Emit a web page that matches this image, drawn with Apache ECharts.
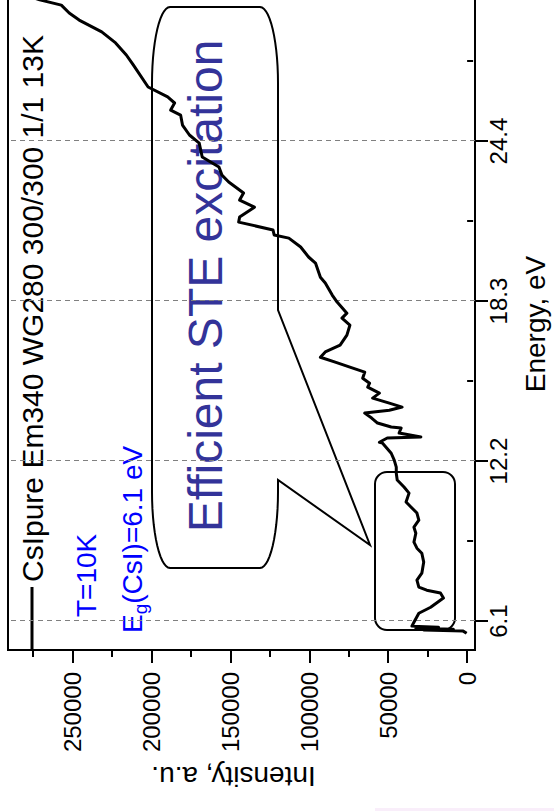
<!DOCTYPE html>
<html>
<head>
<meta charset="utf-8">
<script src="https://cdn.jsdelivr.net/npm/echarts@6/dist/echarts.min.js"></script>
<style>
  html, body { margin: 0; padding: 0; width: 554px; height: 811px; overflow: hidden; background: #fff; }
  /* The plot is laid out landscape and turned a quarter turn counter-clockwise */
  #chart { position: absolute; left: 0; top: 0; width: 860px; height: 554px;
           transform-origin: 0 0; transform: translate(0px, 811px) rotate(-90deg); }
</style>
</head>
<body>
<div id="chart"></div>
<script>
// Excitation spectrum of pure CsI at 10 K (emission 340 nm)
const seriesName = 'CsIpure Em340 WG280 300/300 1/1 13K';

const energy = [
  5.64, 5.72, 5.76, 5.79, 5.83, 5.87, 5.91, 6.06, 6.40, 6.63,
  6.98, 7.17, 7.28, 7.40, 7.66, 7.93, 8.35, 8.69, 8.88, 9.11,
  9.45, 9.68, 9.95, 10.22, 10.45, 10.64, 10.98, 11.21, 11.48, 11.74,
  11.97, 12.24, 12.50, 12.89, 12.92, 13.08, 13.12, 13.27, 13.46, 13.50,
  13.65, 13.84, 14.03, 14.14, 14.26, 14.41, 14.60, 14.79, 15.02, 15.17,
  15.36, 15.59, 15.78, 15.97, 16.16, 16.36, 16.62, 17.00, 17.38, 17.65,
  17.84, 18.26, 18.53, 18.99, 19.21, 19.75, 19.98, 20.36, 20.70, 20.82,
  21.01, 21.31, 21.50, 21.88, 22.15, 22.42, 22.84, 23.10, 23.41, 23.79,
  24.32, 24.63, 25.01, 25.39, 25.58, 25.85, 26.08, 26.46, 27.30, 27.68,
  28.14, 28.56, 29.01, 29.28, 29.58, 29.78, 29.97
];

const intensity = [
  300, 2500, 27500, 8700, 32500, 18100, 35000, 33700, 30600, 23100,
  15000, 16900, 25600, 30600, 31800, 28700, 27500, 28700, 31800, 33700,
  32500, 33700, 30600, 31800, 35600, 38700, 36800, 40000, 44300, 44900,
  44900, 46200, 48100, 53700, 55600, 50600, 29300, 43100, 41800, 48100,
  56800, 60500, 64900, 49300, 41200, 49300, 59900, 55600, 63000, 61800,
  66200, 64900, 74300, 83600, 93000, 89900, 80500, 76200, 74300, 79300,
  76200, 82400, 85500, 89900, 93000, 96100, 100500, 105500, 113000, 122300,
  123000, 144800, 144200, 134800, 144200, 141700, 151100, 155400, 157300, 167900,
  169800, 176000, 180400, 181600, 187900, 185400, 189800, 202200, 211600, 216000,
  222800, 231600, 245900, 252200, 257200, 270900, 280000
];

const energyTicks = [6.1, 12.2, 18.3, 24.4];
const energyMinorTicks = [9.15, 15.25, 21.35, 27.45];
const intensityTicks = [0, 50000, 100000, 150000, 200000, 250000];
const intensityMinorTicks = [25000, 75000, 125000, 175000, 225000, 275000];

const FONT = "'Liberation Sans', Arial, sans-serif";

// Outline of the speech bubble: rounded box with a pointer towards the low-energy region
function bubblePoints() {
  const L = 243, R = 804, T = 152, B = 278, rx = 76, ry = 18, n = 14;
  const pts = [];
  function arc(cx, cy, a0, a1) {
    for (let i = 0; i <= n; i++) {
      const a = (a0 + (a1 - a0) * i / n) * Math.PI / 180;
      pts.push([cx + rx * Math.cos(a), cy + ry * Math.sin(a)]);
    }
  }
  arc(R - rx, T + ry, -90, 0);
  arc(R - rx, B - ry, 0, 90);
  pts.push([501, B], [266, 370], [331, B]);
  arc(L + rx, B - ry, 90, 180);
  arc(L + rx, T + ry, 180, 270);
  return pts;
}

const chart = echarts.init(document.getElementById('chart'), null, { renderer: 'svg' });

const axisBlack = { color: '#000', width: 2 };

chart.setOption({
  animation: false,
  backgroundColor: '#fff',
  textStyle: { fontFamily: FONT },
  grid: {
    left: 161, top: 8, bottom: 72, right: 30,
    show: true, borderColor: '#000', borderWidth: 2, backgroundColor: 'transparent'
  },
  legend: {
    data: [seriesName],
    left: 161, top: 17, padding: 0,
    icon: 'rect', itemWidth: 63, itemHeight: 3, itemGap: 0,
    itemStyle: { color: '#000' },
    textStyle: { fontSize: 30, color: '#000', fontFamily: FONT },
    selectedMode: false
  },
  xAxis: [{
    type: 'value', min: 5, max: 30.5,
    name: 'Energy, eV', nameLocation: 'middle', nameGap: 46,
    nameTextStyle: { fontSize: 28, color: '#000', fontFamily: FONT, padding: [0, 17, 0, 0] },
    axisLine: { show: true, onZero: false, lineStyle: axisBlack },
    axisTick: { show: true, inside: false, length: 13, lineStyle: axisBlack, customValues: energyTicks },
    axisLabel: { show: true, fontSize: 24, color: '#000', margin: 11, customValues: energyTicks,
                 formatter: v => v.toFixed(1) },
    splitLine: { show: false }
  }, {
    type: 'value', min: 5, max: 30.5, position: 'bottom',
    axisLine: { show: false },
    axisTick: { show: true, inside: false, length: 6, lineStyle: axisBlack, customValues: energyMinorTicks },
    axisLabel: { show: false },
    splitLine: { show: false }
  }],
  yAxis: [{
    type: 'value', min: -5000, max: 291000,
    name: 'Intensity, a.u.', nameLocation: 'middle', nameGap: 112,
    nameTextStyle: { fontSize: 28, color: '#000', fontFamily: FONT, padding: [0, 0, 0, 16] },
    axisLine: { show: true, onZero: false, lineStyle: axisBlack },
    axisTick: { show: true, inside: false, length: 13, lineStyle: axisBlack, customValues: intensityTicks },
    axisLabel: { show: true, fontSize: 24, color: '#000', margin: 22, customValues: intensityTicks,
                 formatter: v => String(v) },
    splitLine: { show: false }
  }, {
    type: 'value', min: -5000, max: 291000, position: 'left',
    axisLine: { show: false },
    axisTick: { show: true, inside: false, length: 7, lineStyle: axisBlack, customValues: intensityMinorTicks },
    axisLabel: { show: false },
    splitLine: { show: false }
  }],
  series: [{
    name: seriesName,
    type: 'line',
    xAxisIndex: 0, yAxisIndex: 0,
    data: energy.map((e, i) => [e, intensity[i]]),
    showSymbol: false,
    symbol: 'none',
    lineStyle: { color: '#000', width: 3, join: 'round' },
    itemStyle: { color: '#000' },
    emphasis: { disabled: true },
    z: 5,
    markLine: {
      silent: true,
      symbol: ['none', 'none'],
      label: { show: false },
      lineStyle: { color: '#808080', type: [5, 4], width: 1 },
      emphasis: { disabled: true },
      data: energyTicks.map(v => ({ xAxis: v }))
    }
  }],
  graphic: [
    { type: 'polygon', z: 1, shape: { points: bubblePoints() },
      style: { fill: 'none', stroke: '#000', lineWidth: 2 } },
    { type: 'rect', z: 1, shape: { x: 181, y: 375, width: 158, height: 80, r: 12 },
      style: { fill: 'none', stroke: '#000', lineWidth: 2 } },
    { type: 'text', z: 1, x: 525, y: 205,
      style: { text: 'Efficient STE excitation', fontSize: 48, fontFamily: FONT,
               fill: '#333399', align: 'center', verticalAlign: 'middle' } },
    { type: 'text', z: 1, x: 194, y: 86,
      style: { text: 'T=10K', fontSize: 28, fontFamily: FONT, fill: '#0000ff',
               align: 'left', verticalAlign: 'middle' } },
    { type: 'text', z: 1, x: 178, y: 132,
      style: { text: '{n|E}{s|g}{n|(CsI)=6.1 eV}', fill: '#0000ff', align: 'left', verticalAlign: 'middle',
               rich: {
                 n: { fontSize: 28, fontFamily: FONT, fill: '#0000ff' },
                 s: { fontSize: 19, fontFamily: FONT, fill: '#0000ff', padding: [16, 0, 0, 0] }
               } } },
    { type: 'rect', z: 0, shape: { x: 0, y: 375, width: 3, height: 179 },
      style: { fill: '#f9eefa' } }
  ]
});
</script>
</body>
</html>
